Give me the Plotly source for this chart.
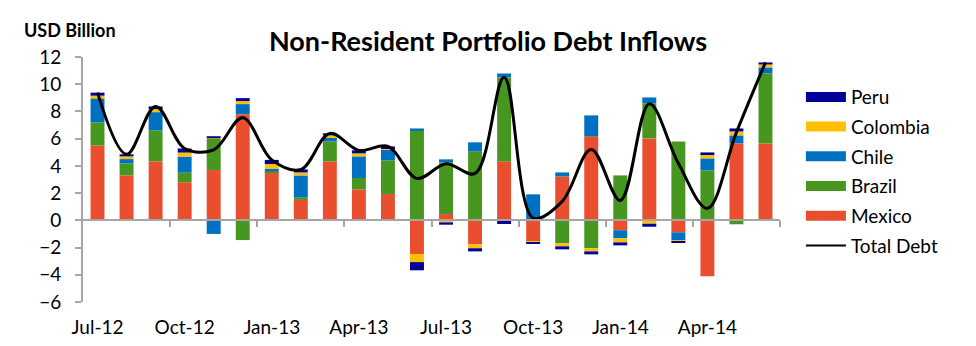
import plotly.graph_objects as go

# Monthly non-resident portfolio debt inflows, USD billion
months = ["Jul-12", "Aug-12", "Sep-12", "Oct-12", "Nov-12", "Dec-12",
          "Jan-13", "Feb-13", "Mar-13", "Apr-13", "May-13", "Jun-13",
          "Jul-13", "Aug-13", "Sep-13", "Oct-13", "Nov-13", "Dec-13",
          "Jan-14", "Feb-14", "Mar-14", "Apr-14", "May-14", "Jun-14"]

mexico = [5.50, 3.30, 4.33, 2.80, 3.70, 7.80, 3.55, 1.50, 4.33, 2.28, 1.93, -2.47,
          0.46, -1.76, 4.33, -1.54, 3.23, 6.17, -0.73, 6.02, -0.88, -4.11, 5.65, 5.65]
brazil = [1.70, 0.88, 2.28, 0.70, 2.28, -1.45, 0.05, 0.20, 1.47, 0.83, 2.48, 6.61,
          3.80, 5.07, 6.17, 0.00, -1.69, -2.06, 3.30, 2.57, 5.80, 3.67, -0.29, 5.14]
chile = [1.76, 0.32, 1.34, 1.18, -1.00, 0.74, 0.20, 1.60, 0.32, 1.59, 0.80, 0.14,
         0.22, 0.66, 0.29, 1.91, 0.29, 1.54, -0.59, 0.44, -0.59, 0.88, 0.59, 0.44]
colombia = [0.20, 0.20, 0.22, 0.30, 0.05, 0.22, 0.34, 0.22, 0.12, 0.22, 0.10, -0.60,
            -0.15, -0.29, 0.00, -0.12, -0.22, -0.22, -0.30, -0.25, -0.07, 0.30, 0.29, 0.22]
peru = [0.22, 0.15, 0.20, 0.30, 0.15, 0.22, 0.30, 0.22, 0.15, 0.22, 0.12, -0.60,
        -0.17, -0.23, -0.27, -0.08, -0.22, -0.22, -0.22, -0.22, -0.07, 0.14, 0.22, 0.15]

# Net total across the five countries
total_debt = [round(a + b + c + d + e, 2)
              for a, b, c, d, e in zip(mexico, brazil, chile, colombia, peru)]

label_months = months[::3]
y_ticks = list(range(-6, 13, 2))

series = [
    ("Mexico", mexico, "#E94F2F"),
    ("Brazil", brazil, "#47961F"),
    ("Chile", chile, "#0070C0"),
    ("Colombia", colombia, "#FFC000"),
    ("Peru", peru, "#000099"),
]

FONT = "Lato"
GRID = "#A6A6A6"
x_idx = list(range(len(months)))

fig = go.Figure()

for name, vals, color in series:
    fig.add_trace(go.Bar(x=x_idx, y=vals, name=name, marker_color=color,
                         marker_line_width=0, width=0.48, showlegend=False))

fig.add_trace(go.Scatter(x=x_idx, y=total_debt, mode="lines", name="Total Debt",
                         line=dict(color="black", width=3, shape="spline", smoothing=1),
                         showlegend=False))

# Legend entries drawn as wide swatches
for name, vals, color in reversed(series):
    fig.add_trace(go.Scatter(x=[None], y=[None], mode="lines", name=name,
                             line=dict(color=color, width=10), legendgroup=name))
fig.add_trace(go.Scatter(x=[None], y=[None], mode="lines", name="Total Debt",
                         line=dict(color="black", width=2), legendgroup="Total Debt"))

# Category axis line along zero, with tick marks between month groups
fig.add_trace(go.Scatter(x=[None], y=[None], xaxis="x2", showlegend=False,
                         hoverinfo="skip"))

fig.update_layout(
    width=976, height=346,
    margin=dict(l=83, r=196, t=57, b=44),
    paper_bgcolor="white", plot_bgcolor="white",
    barmode="relative",
    font=dict(family=FONT, size=19, color="black"),
    title=dict(text="<b>Non-Resident Portfolio Debt Inflows</b>",
               x=0.5, xref="container", xanchor="center",
               y=1 - 42 / 346, yanchor="middle",
               font=dict(family=FONT, size=27, color="black")),
    xaxis=dict(range=[-0.5, 23.5], tickvals=x_idx[::3], ticktext=label_months,
               ticks="outside", ticklen=8, tickcolor="rgba(0,0,0,0)",
               showline=False, showgrid=False, zeroline=False, automargin=False,
               tickfont=dict(family=FONT, size=19)),
    xaxis2=dict(range=[-0.5, 23.5], overlaying="x", anchor="free", position=1 / 3,
                tickvals=[2.5, 5.5, 8.5, 11.5, 14.5, 17.5, 20.5, 23.5],
                ticks="outside", ticklen=6, tickwidth=2, tickcolor=GRID,
                showticklabels=False, showline=True, linecolor=GRID, linewidth=2,
                showgrid=False, zeroline=False, automargin=False),
    yaxis=dict(range=[-6, 12], tickvals=y_ticks, ticks="outside", ticklen=6,
               tickwidth=2, tickcolor=GRID, showline=True, linecolor=GRID,
               linewidth=2, showgrid=False, zeroline=False, automargin=False,
               ticklabelstandoff=10, tickfont=dict(family=FONT, size=19)),
    legend=dict(x=1.03, y=0.914, xanchor="left", yanchor="top",
                tracegroupgap=2, itemwidth=40, font=dict(family=FONT, size=19),
                bgcolor="rgba(0,0,0,0)"),
    annotations=[dict(text="<b>USD Billion</b>", xref="paper", yref="paper",
                      x=-61 / 697, y=1 + 27 / 245, xanchor="left", yanchor="middle",
                      showarrow=False, font=dict(family=FONT, size=18, color="black"))],
)

fig.write_html("out.html")
